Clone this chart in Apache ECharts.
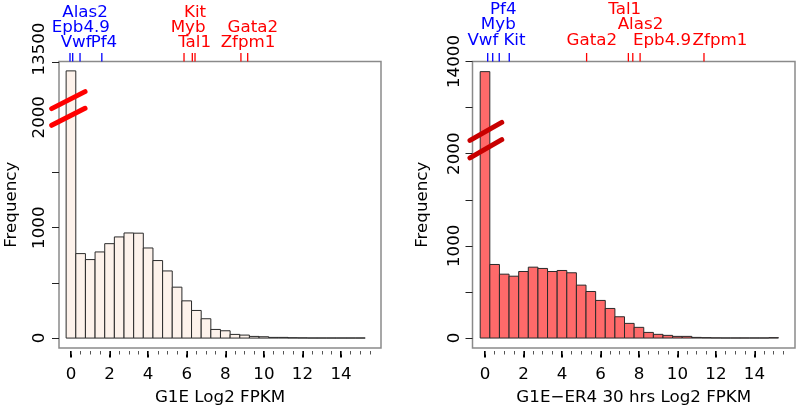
<!DOCTYPE html>
<html><head><meta charset="utf-8">
<script src="https://cdn.jsdelivr.net/npm/echarts@6/dist/echarts.min.js"></script>
<style>html,body{margin:0;padding:0;background:#fff}#c{width:797px;height:411px}</style>
</head><body><div id="c"></div>
<script>
// ---- data ----
const binCenters = [0,0.5,1,1.5,2,2.5,3,3.5,4,4.5,5,5.5,6,6.5,7,7.5,8,8.5,9,9.5,10,10.5,11,11.5,12,12.5,13,13.5,14,14.5,15];
const binWidth = 0.5;
const g1eCounts = [13420,765,711,780,855,916,952,950,816,702,608,461,337,250,175,78,66,33,27,15,12,6,6,3,2,1,1,1,1,1,1];
const er4Counts = [13890,798,693,671,722,769,755,722,733,708,574,505,408,321,231,159,116,61,40,29,18,18,7,4,2,1,1,1,1,1,4];
const xTickValues = [0,2,4,6,8,10,12,14];
const xMinorTickValues = [0,0.5,1,1.5,2,2.5,3,3.5,4,4.5,5,5.5,6,6.5,7,7.5,8,8.5,9,9.5,10,10.5,11,11.5,12,12.5,13,13.5,14,14.5,15,15.5];
const g1eYTicks = [0,500,1000,1500,13500];
const g1eYLabels = [0,1000,2000,13500];
const er4YTicks = [0,500,1000,1500,2000,13500,14000];
const er4YLabels = [0,1000,2000,14000];
const g1eTitle = 'G1E Log2 FPKM';
const er4Title = 'G1E\u2212ER4 30 hrs Log2 FPKM';
// marker genes: name, log2 FPKM, group (0 = blue, 1 = red)
const g1eGeneNames = ['Vwf','Epb4.9','Alas2','Pf4','Myb','Tal1','Kit','Zfpm1','Gata2'];
const g1eGeneFPKM  = [-0.05,0.09,0.47,1.6,5.86,6.29,6.43,8.81,9.16];
const g1eGeneGroup = [0,0,0,0,1,1,1,1,1];
const er4GeneNames = ['Vwf','Myb','Pf4','Kit','Gata2','Tal1','Alas2','Epb4.9','Zfpm1'];
const er4GeneFPKM  = [0.14,0.40,0.74,1.26,5.28,7.45,7.68,8.06,11.38];
const er4GeneGroup = [0,0,0,0,1,1,1,1,1];

// ---- label layout (x in data units, row index) ----
const g1eLabelX = [0.27,0.51,0.73,1.71,6.07,6.41,6.43,9.18,9.43];
const g1eLabelRow = [2,1,0,2,1,2,0,2,1];
const er4LabelX = [-0.11,0.69,0.95,1.53,5.55,7.26,8.08,9.2,12.21];
const er4LabelRow = [2,1,0,2,2,0,1,2,2];

// ---- axis break: values above the gap are shifted down ----
const breakShift = 11000;
const toAxis = v => (v > 2500 ? v - breakShift : v);
const fromAxis = v => (v > 2000 ? v + breakShift : v);
// break symbol segments in data units [x1,y1,x2,y2]
const g1eBreak = [[-1.0,2078,0.73,2232],[-1.0,1927,0.73,2081]];
const er4Break = [[-0.78,2144,0.87,2339],[-0.78,1954,0.87,2152]];

const FONT = 'DejaVu Sans';
const FS = 16.7;

function barRender(fill){
  return function(params, api){
    const c = api.value(0), v = api.value(1);
    const p0 = api.coord([c - binWidth/2, 0]);
    const p1 = api.coord([c + binWidth/2, v]);
    return {type:'rect', shape:{x:p0[0], y:p1[1], width:p1[0]-p0[0], height:p0[1]-p1[1]},
      style:{fill:fill, stroke:'#2a2a2a', lineWidth:1}};
  };
}
function breakRender(color){
  return function(params, api){
    const a = api.coord([api.value(0), api.value(1)]);
    const b = api.coord([api.value(2), api.value(3)]);
    return {type:'line', shape:{x1:a[0],y1:a[1],x2:b[0],y2:b[1]},
      style:{stroke:color, lineWidth:5, lineCap:'round'}, z2:10};
  };
}
function geneRender(names, rowY){
  return function(params, api){
    const v = api.value(0), lx = api.value(1), row = api.value(2), grp = api.value(3);
    const top = params.coordSys.y;
    const px = api.coord([v, 0])[0];
    const lpx = api.coord([lx, 0])[0];
    const color = grp === 1 ? '#ff0000' : '#0000ff';
    return {type:'group', children:[
      {type:'line', shape:{x1:px, y1:top-8.5, x2:px, y2:top}, style:{stroke:color, lineWidth:1.3}},
      {type:'text', x:lpx, y:rowY[row], style:{text:names[params.dataIndex], fill:color,
        font: FS + 'px "' + FONT + '"', textAlign:'center', textVerticalAlign:'middle'}}
    ]};
  };
}

function xAxes(gi, min, max, title){
  return [
    {gridIndex:gi, type:'value', position:'bottom', min:min, max:max, offset:3,
     axisLine:{show:false, onZero:false}, splitLine:{show:false},
     axisTick:{show:true, inside:false, customValues:xTickValues, length:6.5, lineStyle:{color:'#000', width:2}},
     axisLabel:{customValues:xTickValues, margin:15, fontSize:FS, fontFamily:FONT, color:'#000'},
     name:title, nameLocation:'middle', nameGap:38, nameTextStyle:{fontSize:FS, fontFamily:FONT, color:'#000'}},
    {gridIndex:gi, type:'value', position:'bottom', min:min, max:max, offset:3,
     axisLine:{show:false, onZero:false}, splitLine:{show:false},
     axisTick:{show:true, inside:false, customValues:xMinorTickValues, length:3.5, lineStyle:{color:'#555', width:1}},
     axisLabel:{show:false}}
  ];
}
function yAxis(gi, min, max, ticks, labels, margin, nameGap, topPad){
  return {gridIndex:gi, type:'value', position:'left', min:min, max:max,
    axisLine:{show:false, onZero:false}, splitLine:{show:false},
    axisTick:{show:true, inside:false, customValues:ticks.map(toAxis), length:7, lineStyle:{color:'#222', width:1}},
    axisLabel:{customValues:labels.map(toAxis), rotate:90, margin:margin, fontSize:FS, fontFamily:FONT, color:'#000',
      formatter: v => { const t = String(fromAxis(v)); return (v > 2000 && topPad) ? '{up|' + t + '}' : t; },
      rich:{up:{padding:[0,0,0,topPad||0], fontSize:FS, fontFamily:FONT, color:'#000'}}},
    name:'Frequency', nameLocation:'middle', nameRotate:90, nameGap:nameGap,
    nameTextStyle:{fontSize:FS, fontFamily:FONT, color:'#000'}};
}

const chart = echarts.init(document.getElementById('c'), null, {renderer:'canvas'});
chart.setOption({
  animation:false,
  backgroundColor:'#fff',
  grid:[
    {left:59, top:61.5, width:322, height:287.5, show:true, borderColor:'#8a8a8a', borderWidth:1.5, backgroundColor:'transparent'},
    {left:472.5, top:61.5, width:322.5, height:287.5, show:true, borderColor:'#8a8a8a', borderWidth:1.5, backgroundColor:'transparent'}
  ],
  xAxis: [].concat(xAxes(0, -0.62, 16.07, g1eTitle), xAxes(1, -0.65, 16.11, er4Title)),
  yAxis: [
    yAxis(0, -90, 2505, g1eYTicks, g1eYLabels, 10.5, 39, 26),
    yAxis(1, -108, 3000, er4YTicks, er4YLabels, 9.5, 41, 0)
  ],
  series:[
    {type:'custom', xAxisIndex:0, yAxisIndex:0, renderItem:barRender('#fdf2eb'),
     data: binCenters.map((c,i)=>[c, toAxis(g1eCounts[i])])},
    {type:'custom', xAxisIndex:2, yAxisIndex:1, renderItem:barRender('#ff6a6a'),
     data: binCenters.map((c,i)=>[c, toAxis(er4Counts[i])])},
    {type:'custom', xAxisIndex:0, yAxisIndex:0, clip:false, z:5, renderItem:breakRender('#ff0000'), data:g1eBreak},
    {type:'custom', xAxisIndex:2, yAxisIndex:1, clip:false, z:5, renderItem:breakRender('#c80000'), data:er4Break},
    {type:'custom', xAxisIndex:0, yAxisIndex:0, clip:false, renderItem:geneRender(g1eGeneNames,[12.2,27.5,42.8]),
     data: g1eGeneNames.map((n,i)=>[g1eGeneFPKM[i], g1eLabelX[i], g1eLabelRow[i], g1eGeneGroup[i]])},
    {type:'custom', xAxisIndex:2, yAxisIndex:1, clip:false, renderItem:geneRender(er4GeneNames,[9.2,24.7,40.8]),
     data: er4GeneNames.map((n,i)=>[er4GeneFPKM[i], er4LabelX[i], er4LabelRow[i], er4GeneGroup[i]])}
  ]
});
</script></body></html>
